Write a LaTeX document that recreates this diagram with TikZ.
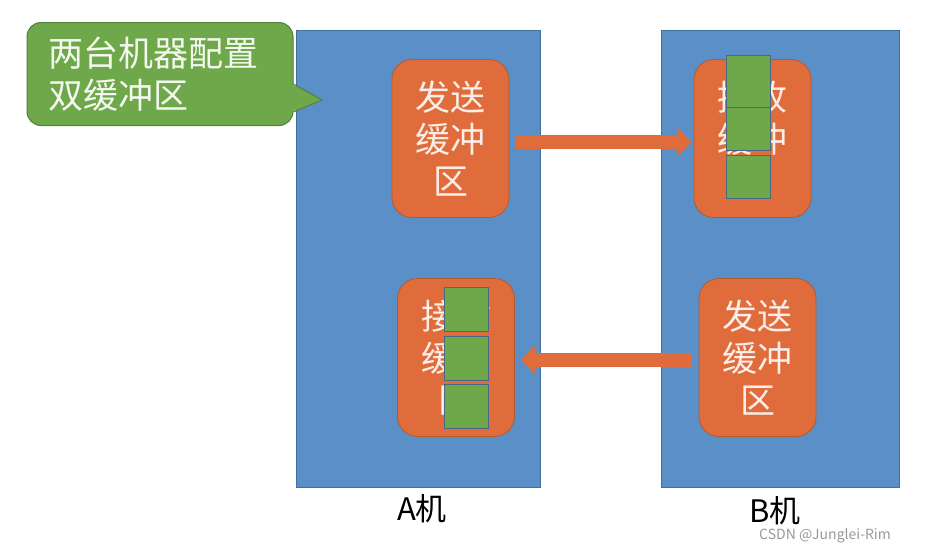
\documentclass[tikz,border=0pt]{standalone}
\usepackage{fontspec}
\setmainfont{Noto Sans CJK SC}
\usetikzlibrary{arrows.meta}
\definecolor{pcblue}{RGB}{91,143,199}
\definecolor{pcline}{RGB}{65,113,156}
\definecolor{bufcolor}{RGB}{224,108,60}
\definecolor{bufline}{RGB}{176,92,46}
\definecolor{notegreen}{RGB}{110,168,74}
\definecolor{noteline}{RGB}{84,128,56}
\definecolor{cellline}{RGB}{72,104,132}
\begin{document}
\begin{tikzpicture}[x=1pt,y=-1pt,
machine/.style={draw=pcline,fill=pcblue,line width=1pt,minimum height=457pt},
buffer/.style={draw=bufline,fill=bufcolor,line width=0.8pt,rounded corners=20pt,
  minimum width=117pt,minimum height=158pt,inner sep=0pt,align=center,
  text=white!88!bufcolor,font=\fontsize{35}{42}\selectfont},
cell/.style={draw=cellline,fill=notegreen,line width=0.8pt,minimum width=44pt,
  minimum height=44pt,inner sep=0pt},
flow/.style={draw=bufcolor,line width=14pt,-{Triangle[length=14pt,width=28pt]}},
tag/.style={font=\fontsize{31}{31}\selectfont}]
\useasboundingbox (0,0) rectangle (925,549);
% the two machines
\node[machine,minimum width=244pt] (pcA) at (418,258.5) {};
\node[machine,minimum width=238pt] (pcB) at (780,258.5) {};
% callout
\node[draw=noteline,fill=notegreen,line width=1pt,rounded corners=14pt,
  minimum width=266pt,minimum height=103pt,text width=224pt,align=left,
  text=white!92!notegreen,font=\fontsize{35}{42}\selectfont] (idea) at (160,74) {两台机器配置\\双缓冲区};
\coordinate (tip) at (322,100);
\path[fill=notegreen] ([shift={(-2,10)}]idea.east) -- (tip) -- ([shift={(-2,38)}]idea.east) -- cycle;
\path[draw=noteline,line width=1pt] ([shift={(0,10)}]idea.east) -- (tip) -- ([shift={(0,38)}]idea.east);
% buffers
\node[buffer] (sendA) at (450.5,138.5) {发送\\缓冲\\区};
\node[buffer] (recvA) at (456,357.5) {接收\\缓冲\\区};
\node[buffer] (recvB) at (752.5,138.5) {接收\\缓冲\\区};
\node[buffer] (sendB) at (757.5,357.5) {发送\\缓冲\\区};
% cells
\node[cell] (a1) at (466,309) {};
\node[cell] (a2) at (466,358) {};
\node[cell] (a3) at (466,406) {};
\node[cell,minimum height=52pt] (b1) at (748.5,81) {};
\node[cell,minimum height=43pt] (b2) at (748.5,129) {};
\node[cell,minimum height=43pt] (b3) at (748.5,177) {};
% transfers
\path[flow,shorten <=7pt,shorten >=2pt] ([yshift=-3.5pt]sendA.east) -- ([yshift=-3.5pt]recvB.west);
\path[flow,shorten <=7pt,shorten >=6pt] ([yshift=-2.5pt]sendB.west) -- ([yshift=-2.5pt]recvA.east);
% labels
\node[tag] (nameA) at (422,509) {A机};
\node[tag] (nameB) at (775,511) {B机};
\node[text=black!40,font=\fontsize{14}{14}\selectfont] (mark) at (825,536) {CSDN @Junglei-Rim};
\end{tikzpicture}
\end{document}
